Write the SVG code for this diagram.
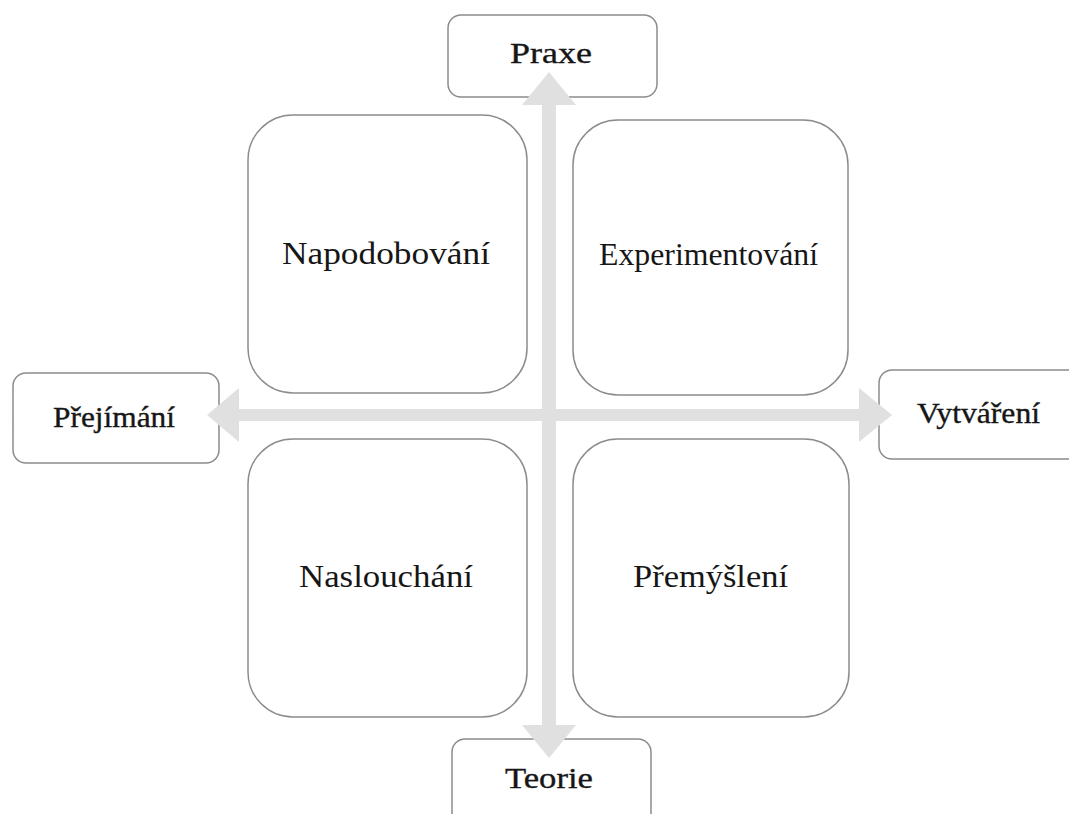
<svg xmlns="http://www.w3.org/2000/svg" width="1069" height="814" viewBox="0 0 1069 814">
<style>
.box{fill:#fff;stroke:#8c8c8c;stroke-width:1.5}
.lbl{font-family:"Liberation Serif","DejaVu Serif",serif;fill:#161616;text-anchor:middle}
.q{font-size:31px}
.e{font-size:29px;stroke:#161616;stroke-width:0.35}
.arrow{fill:#e0e0e0}
</style>
<rect width="1069" height="814" fill="#fff"/>
<g id="node-praxe"><rect class="box" x="448" y="15" width="209" height="82" rx="13"/><text class="lbl e" x="551" y="63" textLength="82" lengthAdjust="spacingAndGlyphs">Praxe</text></g>
<g id="node-teorie"><rect class="box" x="452" y="739" width="199" height="95" rx="13"/><text class="lbl e" x="549" y="788" textLength="88" lengthAdjust="spacingAndGlyphs">Teorie</text></g>
<g id="node-prejimani"><rect class="box" x="13" y="373" width="206" height="90" rx="13"/><text class="lbl e" x="114" y="427" textLength="122" lengthAdjust="spacingAndGlyphs">Přejímání</text></g>
<g id="node-vytvareni"><rect class="box" x="879" y="370" width="210" height="89" rx="13"/><text class="lbl e" x="978.5" y="423" textLength="123" lengthAdjust="spacingAndGlyphs">Vytváření</text></g>
<g id="node-napodobovani"><rect class="box" x="248" y="115" width="279" height="278" rx="45"/><text class="lbl q" x="386" y="264" textLength="208" lengthAdjust="spacingAndGlyphs">Napodobování</text></g>
<g id="node-experimentovani"><rect class="box" x="573" y="120" width="275" height="275" rx="45"/><text class="lbl q" x="708.5" y="265" textLength="219" lengthAdjust="spacingAndGlyphs">Experimentování</text></g>
<g id="node-naslouchani"><rect class="box" x="248" y="439" width="279" height="278" rx="45"/><text class="lbl q" x="386" y="587" textLength="174" lengthAdjust="spacingAndGlyphs">Naslouchání</text></g>
<g id="node-premysleni"><rect class="box" x="573" y="439" width="276" height="278" rx="45"/><text class="lbl q" x="710.5" y="587" textLength="155" lengthAdjust="spacingAndGlyphs">Přemýšlení</text></g>
<g id="connectors">
<path class="arrow" d="M549 72 L576 105 L556 105 L556 725 L576 725 L549 758 L522 725 L542 725 L542 105 L522 105 Z"/>
<path class="arrow" d="M207 415 L239 388 L239 409 L859 409 L859 388 L892 415 L859 442 L859 421 L239 421 L239 442 Z"/>
</g>
</svg>
